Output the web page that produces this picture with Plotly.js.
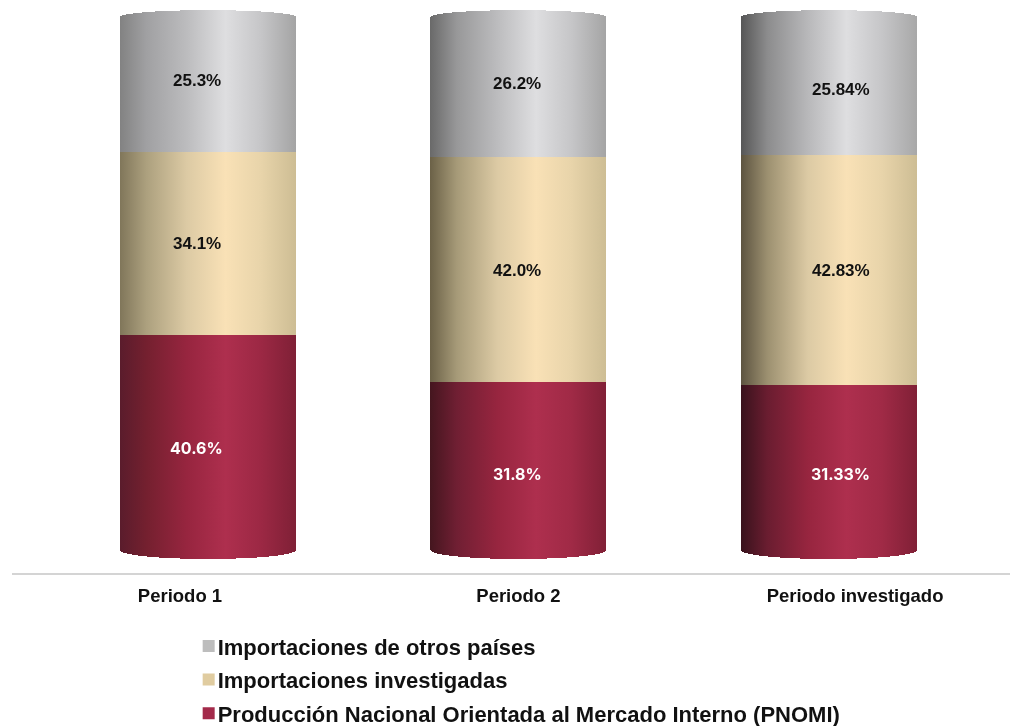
<!DOCTYPE html>
<html><head><meta charset="utf-8">
<script src="https://cdn.plot.ly/plotly-3.0.1.min.js"></script>
<style>html,body{margin:0;padding:0;background:#fff}#chart{width:1010px;height:726px;filter:blur(0.5px)}</style>
</head><body><div id="chart"></div>
<script>
const categories = ['Periodo 1', 'Periodo 2', 'Periodo investigado'];
const pnomi = [40.6, 31.8, 31.33];
const investigadas = [34.1, 42.0, 42.83];
const otros = [25.3, 26.2, 25.84];
const pnomiLabels = ['40.6%', '31.8%', '31.33%'];
const investigadasLabels = ['34.1%', '42.0%', '42.83%'];
const otrosLabels = ['25.3%', '26.2%', '25.84%'];
const seriesNames = ['Producción Nacional Orientada al Mercado Interno (PNOMI)', 'Importaciones investigadas', 'Importaciones de otros países'];

const legendColors = ['#a32a4a', '#e0cca0', '#bdbdbd'];
const stops = [0, 0.15, 0.38, 0.6, 0.8, 1];
const shades = [
  [['#5a1c2c','#74202f','#97253f','#ae2f4e','#9c2844','#7f2036'],['#80765a','#aca07e','#dccaa4','#f9e1b6','#e8d4aa','#cdbd94'],['#828282','#a0a0a2','#bcbcbe','#dedee0','#c6c6c8','#a4a4a4']],
  [['#45161f','#701f33','#97253f','#ae2f4e','#a02a46','#802036'],['#6c6248','#a69a78','#dccaa4','#f9e1b6','#e8d4aa','#cdbd94'],['#6a6a6a','#989899','#bcbcbe','#dedee0','#c6c6c8','#a4a4a4']],
  [['#38121c','#6a1d30','#97253f','#ae2f4e','#a02a46','#802036'],['#5c5340','#9c9070','#dccaa4','#f9e1b6','#e8d4aa','#cdbd94'],['#565656','#8c8c8d','#b8b8ba','#dedee0','#c6c6c8','#a8a8a8']]
];

const series = [pnomi, investigadas, otros];
const traces = series.map((vals, i) => ({
  type: 'bar', x: categories, y: vals, name: seriesNames[i], legendgroup: 'g' + i, legendrank: 3 - i,
  width: 0.567, marker: {color: legendColors[i], line: {width: 0}}, hoverinfo: 'x+y'
}));

const allLabels = [pnomiLabels, investigadasLabels, otrosLabels];
const labelFonts = [
  {family: 'Inter, Liberation Sans, sans-serif', size: 16, color: '#ffffff', weight: 700},
  {family: 'Liberation Sans, Arial, sans-serif', size: 17, color: '#111111', weight: 700},
  {family: 'Liberation Sans, Arial, sans-serif', size: 17, color: '#111111', weight: 700}
];
const labelDx = [-11, -1, 12];
const labelDy = [[-4, 0, 4], [-6, -1, 3], [-5, -1, -4]];
const annotations = [];
categories.forEach((c, ci) => {
  let base = 0;
  series.forEach((vals, si) => {
    annotations.push({
      x: c, y: base + vals[ci] / 2, text: allLabels[si][ci], showarrow: false,
      xref: 'x', yref: 'y', xshift: labelDx[ci], yshift: labelDy[ci][si],
      font: labelFonts[si]
    });
    base += vals[ci];
  });
});

const layout = {
  width: 1010, height: 726, paper_bgcolor: '#fff', plot_bgcolor: '#fff', showlegend: true,
  barmode: 'stack', bargap: 0.43,
  margin: {l: 12, r: 0, t: 0, b: 153, autoexpand: false},
  font: {family: 'Liberation Sans, Arial, sans-serif', color: '#111'},
  xaxis: {
    type: 'category', range: [-0.631, 2.583], showgrid: false, zeroline: false,
    showline: true, linecolor: '#d4d4d4', linewidth: 2,
    tickmode: 'array', tickvals: [-0.09, 1, 2.084], ticktext: categories, ticks: '',
    ticklabelstandoff: 5,
    tickfont: {size: 18.5, weight: 700, color: '#111'}, automargin: false, fixedrange: true
  },
  yaxis: {range: [-3.72, 103], visible: false, fixedrange: true},
  legend: {
    x: 0.166, xanchor: 'left', y: -0.091, yanchor: 'top', yref: 'paper', orientation: 'v',
    traceorder: 'grouped', tracegroupgap: 2,
    font: {size: 22, weight: 700, color: '#111'}, bgcolor: 'rgba(0,0,0,0)'
  },
  annotations: annotations
};

Plotly.newPlot('chart', traces, layout, {displayModeBar: false, staticPlot: true}).then(gd => {
  const svg = gd.querySelector('.main-svg');
  const NS = 'http://www.w3.org/2000/svg';
  const defs = svg.querySelector('defs') || svg.insertBefore(document.createElementNS(NS, 'defs'), svg.firstChild);
  gd.querySelectorAll('.barlayer .trace').forEach((tr, si) => {
    tr.querySelectorAll('.point path').forEach((p, ci) => {
      const id = 'cyl' + si + '_' + ci;
      const lg = document.createElementNS(NS, 'linearGradient');
      lg.setAttribute('id', id);
      shades[ci][si].forEach((col, k) => {
        const st = document.createElementNS(NS, 'stop');
        st.setAttribute('offset', stops[k]); st.setAttribute('stop-color', col);
        lg.appendChild(st);
      });
      defs.appendChild(lg);
      p.style.fill = 'url(#' + id + ')';
      const n = p.getAttribute('d').match(/-?[\d.]+/g).map(Number);
      const x0 = n[0], yb = n[1], yt = n[2], x1 = n[3];
      const r = (x1 - x0) / 2;
      if (si === 0) p.setAttribute('d', `M${x0},${yt}H${x1}V${yb - 3}A${r},9 0 0 1 ${x0},${yb - 3}Z`);
      if (si === 2) p.setAttribute('d', `M${x0},${yb}V${yt + 1}A${r},7 0 0 1 ${x1},${yt + 1}V${yb}Z`);
    });
  });
  gd.querySelectorAll('.legendsymbols').forEach(s => s.setAttribute('transform', 'translate(11,0)'));
});
</script></body></html>
